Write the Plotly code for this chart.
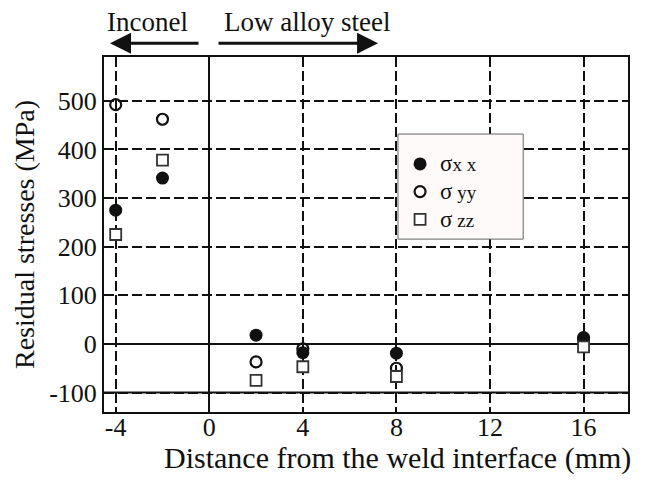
import plotly.graph_objects as go

# Data
x_pos = [-4, -2, 2, 4, 8, 16]
sigma_xx = [275, 341, 18, -18, -19, 10]
sigma_yy = [492, 462, -37, -10, -50, 13]
sigma_zz = [225, 378, -75, -47, -67, -6]

x_ticks = [-4, 0, 4, 8, 12, 16]
y_ticks = [-100, 0, 100, 200, 300, 400, 500]
series_names = ["<span style='font-size:23px'>σ</span>x x",
                "<span style='font-size:23px'>σ</span> yy",
                "<span style='font-size:23px'>σ</span> zz"]

FONT = "Liberation Serif, Times New Roman, serif"
INK = "#111111"

fig = go.Figure()
fig.add_trace(go.Scatter(x=x_pos, y=sigma_xx, mode="markers", name=series_names[0],
                         marker=dict(symbol="circle", size=13, color=INK,
                                     line=dict(width=0, color=INK))))
fig.add_trace(go.Scatter(x=x_pos, y=sigma_yy, mode="markers", name=series_names[1],
                         marker=dict(symbol="circle-open", size=11, color=INK,
                                     line=dict(width=2.2, color=INK))))
fig.add_trace(go.Scatter(x=x_pos, y=sigma_zz, mode="markers", name=series_names[2],
                         marker=dict(symbol="square", size=11, color="white",
                                     line=dict(width=1.8, color="#333333"))))

fig.update_layout(
    width=649, height=488,
    margin=dict(l=104, r=21, t=57, b=76),
    paper_bgcolor="white", plot_bgcolor="white",
    font=dict(family=FONT, size=26, color=INK),
    showlegend=True,
    legend=dict(x=0.565, y=0.752, xanchor="left", yanchor="top",
                bgcolor="rgba(0,0,0,0)", borderwidth=0,
                font=dict(family=FONT, size=19, color=INK),
                itemwidth=30, tracegroupgap=0),
    xaxis=dict(range=[-4.5, 17.9], tickvals=x_ticks, ticktext=[str(v) for v in x_ticks],
               showgrid=True, gridcolor=INK, gridwidth=2, griddash="10px,4px",
               zeroline=True, zerolinecolor=INK, zerolinewidth=2,
               showline=True, linecolor=INK, linewidth=2, mirror=True,
               ticks="", ticklabelstandoff=-9, automargin=False,
               tickfont=dict(family=FONT, size=26)),
    yaxis=dict(range=[-140, 590], tickvals=y_ticks, ticktext=[str(v) for v in y_ticks],
               showgrid=True, gridcolor=INK, gridwidth=2, griddash="10px,4px",
               zeroline=True, zerolinecolor=INK, zerolinewidth=2,
               showline=True, linecolor=INK, linewidth=2, mirror=True,
               ticks="", ticklabelstandoff=0, automargin=False,
               tickfont=dict(family=FONT, size=26),
               title=dict(text="Residual stresses (MPa)", standoff=6,
                          font=dict(family=FONT, size=28))),
)

# solid line at -100
fig.add_shape(type="line", xref="paper", yref="y", x0=0, x1=1, y0=y_ticks[0], y1=y_ticks[0],
              line=dict(color=INK, width=2), layer="below")

# legend box
fig.add_shape(type="rect", xref="paper", yref="paper", x0=0.561, x1=0.800, y0=0.487, y1=0.783,
              line=dict(color="#666666", width=1), fillcolor="#fffafa", layer="above")

# x-axis title as annotation (shifted right like the reference)
fig.add_annotation(text="Distance from the weld interface (mm)", xref="paper", yref="paper",
                   x=0.56, y=-0.13, xanchor="center", yanchor="middle", showarrow=False,
                   font=dict(family=FONT, size=30))

# Top labels with arrows
fig.add_annotation(text="Inconel", xref="paper", yref="paper", x=0.002, y=1.099,
                   xanchor="left", yanchor="middle",
                   showarrow=False, font=dict(family=FONT, size=27))
fig.add_annotation(text="Low alloy steel", xref="paper", yref="paper", x=0.225, y=1.099,
                   xanchor="left", yanchor="middle",
                   showarrow=False, font=dict(family=FONT, size=27))
fig.add_annotation(text="", xref="paper", yref="paper", x=0.0115, y=1.039,
                   axref="pixel", ayref="pixel", ax=90, ay=0,
                   showarrow=True, arrowhead=2, arrowsize=1.4, arrowwidth=3, arrowcolor=INK)
fig.add_annotation(text="", xref="paper", yref="paper", x=0.523, y=1.039,
                   axref="pixel", ayref="pixel", ax=-161, ay=0,
                   showarrow=True, arrowhead=2, arrowsize=1.4, arrowwidth=3, arrowcolor=INK)

fig.write_html("out.html", config={"displayModeBar": False},
               post_script="document.body.style.margin='0px';")
